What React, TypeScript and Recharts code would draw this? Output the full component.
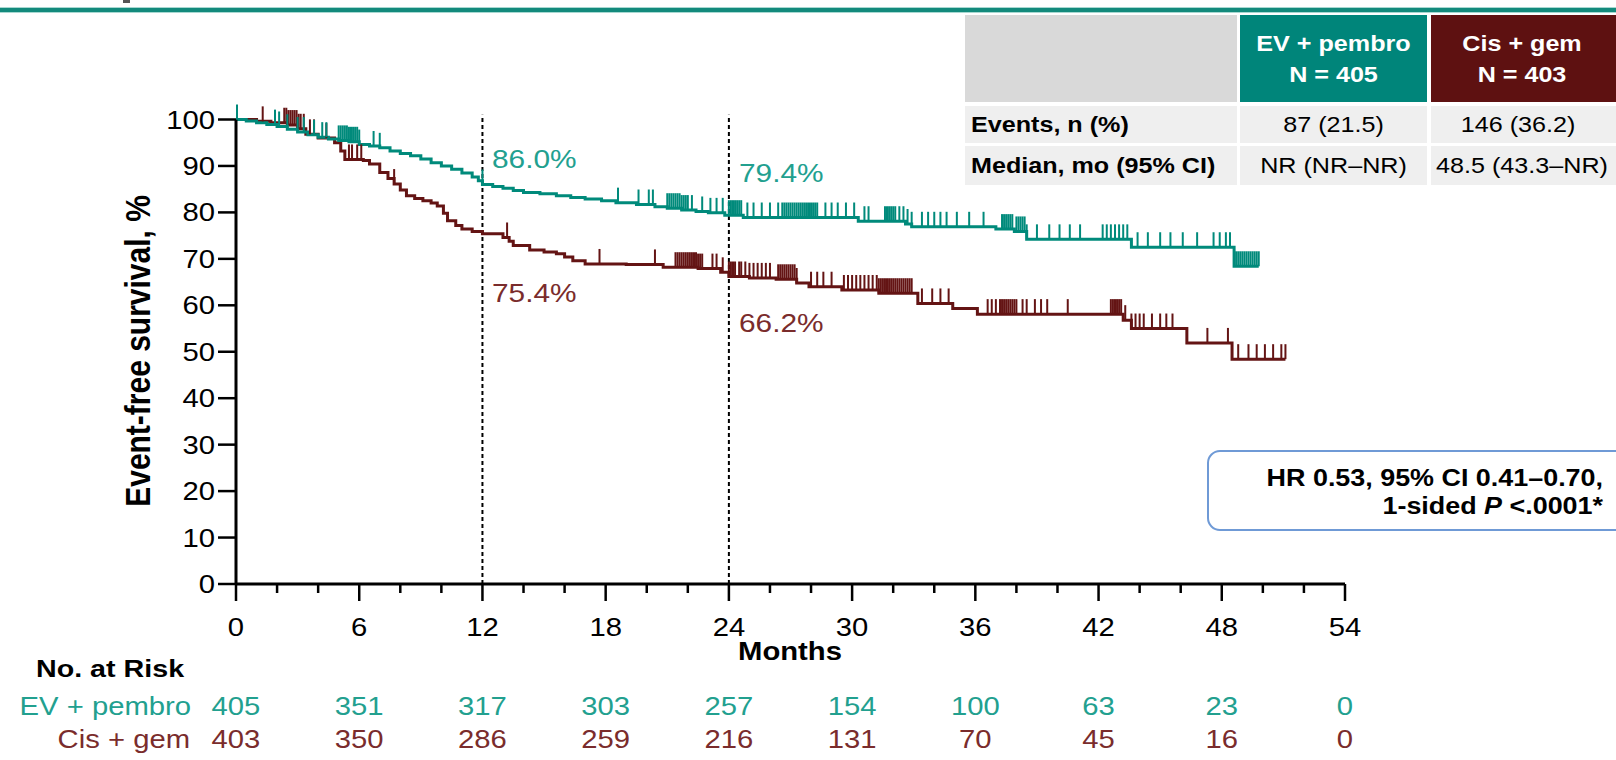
import React from 'react';
import { ComposedChart, Line, Scatter, XAxis, YAxis, ReferenceLine } from 'recharts';

const FONT = '"Liberation Sans", Arial, sans-serif';
// the source slide is stretched sideways, so text is widened to match
const SX = 1.17;

const TEAL = '#008a7b';
const TEAL_TEXT = '#22a08f';
const MAROON = '#641414';
const MAROON_TEXT = '#7a2c2c';

const Y_TICKS = [0, 10, 20, 30, 40, 50, 60, 70, 80, 90, 100];
const X_ALL_TICKS = [0, 2, 4, 6, 8, 10, 12, 14, 16, 18, 20, 22, 24, 26, 28, 30, 32, 34, 36, 38, 40, 42, 44, 46, 48, 50, 52, 54];
const RISK_MONTHS = [0, 6, 12, 18, 24, 30, 36, 42, 48, 54];
const EV_RISK = [405, 351, 317, 303, 257, 154, 100, 63, 23, 0];
const CIS_RISK = [403, 350, 286, 259, 216, 131, 70, 45, 16, 0];

// [month, event-free survival %]
const EV_CURVE = [
  [0, 100], [0.5, 99.7], [1.0, 99.3], [1.5, 98.9], [2.0, 98.5], [2.5, 97.9], [3.0, 97.3], [3.5, 96.7],
  [4.0, 96.2], [4.5, 95.8], [5.0, 95.5], [5.5, 95.2], [6.0, 94.6], [6.5, 94.3], [7.0, 93.9], [7.5, 93.2],
  [8.0, 92.7], [8.5, 92.2], [9.0, 91.5], [9.5, 90.7], [10.0, 90.0], [10.5, 89.3], [11.0, 88.5], [11.5, 87.6],
  [11.8, 86.8], [12.0, 86.0], [12.5, 85.6], [13.0, 85.2], [13.5, 84.7], [14.0, 84.3], [14.8, 84.0], [15.6, 83.6],
  [16.3, 83.2], [17.0, 82.9], [17.8, 82.5], [18.5, 82.1], [19.5, 81.7], [20.4, 81.2], [21.0, 80.9], [21.7, 80.5],
  [22.4, 80.2], [23.0, 79.9], [23.8, 79.4], [24.7, 78.9], [30.3, 78.1], [32.6, 77.5], [32.9, 76.9], [37.0, 76.4],
  [37.9, 75.9], [38.5, 74.2], [43.6, 72.5], [48.6, 68.4], [49.8, 68.4],
];

const CIS_CURVE = [
  [0, 100], [1.0, 99.6], [1.7, 99.3], [2.5, 98.8], [3.0, 98.0], [3.4, 96.8], [4.0, 96.0], [4.8, 95.0],
  [5.1, 93.2], [5.3, 91.4], [6.2, 91.2], [6.5, 90.4], [7.0, 88.6], [7.4, 87.3], [7.7, 86.1], [8.0, 84.8],
  [8.3, 83.6], [8.7, 83.0], [9.1, 82.5], [9.5, 82.0], [9.8, 81.4], [10.1, 79.8], [10.3, 78.2], [10.7, 77.2],
  [11.0, 76.4], [11.5, 75.9], [12.0, 75.4], [13.0, 74.6], [13.3, 73.8], [13.5, 72.9], [14.3, 71.9], [15.0, 71.5],
  [15.6, 71.1], [16.0, 70.4], [16.4, 69.6], [17.0, 68.9], [19.0, 68.8], [20.8, 68.2], [22.5, 67.9], [23.6, 67.1],
  [24.0, 66.2], [25.0, 65.9], [26.3, 65.6], [27.3, 64.8], [27.9, 64.0], [29.5, 63.3], [31.3, 62.6], [33.2, 60.4],
  [34.9, 59.3], [36.1, 58.1], [43.2, 56.8], [43.6, 55.0], [46.3, 51.9], [48.5, 48.4], [51.1, 48.4],
];

// censoring times, months
const EV_CENSOR = [
  0.05, 1.9, 2.1, 2.5, 3.0, 3.3, 3.8, 4.2, 4.4, 5.0, 5.1, 5.2, 5.3, 5.4, 5.5, 5.6, 5.7, 5.8, 5.9, 6.0, 6.7, 7.0,
  12.0, 18.6, 19.6, 20.1, 20.3, 21.0, 21.1, 21.2, 21.3, 21.4, 21.5, 21.6, 21.7, 21.8, 21.9, 22.0, 22.2, 22.7,
  23.1, 23.4, 23.7, 24.0, 24.1, 24.2, 24.3, 24.4, 24.5, 24.6, 24.9, 25.2, 25.6, 26.0, 26.4, 26.6, 26.7, 26.8,
  26.9, 27.0, 27.1, 27.2, 27.3, 27.4, 27.5, 27.6, 27.7, 27.8, 27.9, 28.0, 28.1, 28.2, 28.3, 28.7, 29.0, 29.3,
  29.7, 30.1, 30.6, 30.8, 31.6, 31.7, 31.8, 31.9, 32.0, 32.1, 32.3, 32.5, 32.7, 32.9, 33.4, 33.7, 34.0, 34.3,
  34.6, 35.1, 35.7, 36.4, 37.3, 37.4, 37.5, 37.6, 37.7, 37.8, 38.0, 38.1, 38.2, 38.3, 38.4, 38.5, 39.0, 39.6,
  40.1, 40.6, 41.1, 42.2, 42.4, 42.6, 42.8, 43.0, 43.2, 43.4, 43.9, 44.4, 45.0, 45.5, 46.1, 46.8, 47.6, 47.9,
  48.2, 48.4, 48.7, 48.8, 48.9, 49.0, 49.1, 49.2, 49.3, 49.4, 49.5, 49.6, 49.7, 49.8,
];

const CIS_CENSOR = [
  1.3, 2.35, 2.45, 2.55, 2.65, 2.75, 2.85, 2.95, 3.05, 3.15, 3.3, 3.6, 3.8, 4.4, 5.5, 5.65, 5.9, 6.1, 7.7,
  13.2, 17.7, 20.4, 21.4, 21.5, 21.6, 21.7, 21.8, 21.9, 22.0, 22.1, 22.2, 22.3, 22.4, 22.5, 22.6, 22.7, 23.2,
  23.4, 23.7, 24.0, 24.1, 24.2, 24.3, 24.5, 24.6, 24.8, 25.0, 25.2, 25.4, 25.6, 25.8, 26.0, 26.4, 26.5, 26.6,
  26.7, 26.8, 26.9, 27.0, 27.1, 27.2, 27.3, 28.0, 28.3, 28.6, 29.0, 29.6, 29.8, 30.0, 30.2, 30.4, 30.6, 30.8,
  31.0, 31.2, 31.3, 31.4, 31.5, 31.6, 31.7, 31.8, 31.9, 32.0, 32.1, 32.2, 32.3, 32.4, 32.5, 32.6, 32.7, 32.8,
  32.9, 33.4, 33.9, 34.3, 34.7, 36.6, 36.8, 37.0, 37.2, 37.3, 37.4, 37.5, 37.6, 37.7, 37.8, 37.9, 38.0, 38.3,
  38.5, 38.9, 39.2, 39.5, 40.5, 42.6, 42.7, 42.8, 42.9, 43.0, 43.1, 43.3, 43.6, 43.8, 44.0, 44.2, 44.6, 45.0,
  45.3, 45.6, 47.3, 48.3, 48.8, 49.3, 49.7, 50.1, 50.5, 50.9, 51.1,
];

// plot frame on the page
const W = 1616;
const H = 760;
const X0 = 236;
const X1 = 1345;
const Y100 = 119.5;
const Y0 = 584;
const YAXIS_W = 60;
const XAXIS_H = 60;

const xs = (m: number) => X0 + (m / 54) * (X1 - X0);

const toPoints = (curve: number[][]) => curve.map(([month, surv]) => ({ month, surv }));

const levelAt = (curve: number[][], t: number) => {
  let v = curve[0][1];
  for (const [m, s] of curve) {
    if (m <= t) v = s;
  }
  return v;
};

const censorPoints = (times: number[], curve: number[][]) =>
  times.map((month) => ({ month, surv: levelAt(curve, month) }));

const evLine = toPoints(EV_CURVE);
const cisLine = toPoints(CIS_CURVE);
const evMarks = censorPoints(EV_CENSOR, EV_CURVE);
const cisMarks = censorPoints(CIS_CENSOR, CIS_CURVE);

const Txt = ({ x, y, size, anchor = 'start', weight = 400, fill = '#000', children }: any) => (
  <text
    transform={`translate(${x},${y}) scale(${SX},1)`}
    textAnchor={anchor}
    fontSize={size}
    fontWeight={weight}
    fill={fill}
    fontFamily={FONT}
  >
    {children}
  </text>
);

const renderYTick = (props: any) => {
  const { x, y, payload } = props;
  return (
    <Txt x={x} y={y + 9} size={25} anchor="end">
      {payload.value}
    </Txt>
  );
};

const renderXTick = (props: any) => {
  const { x, y, payload } = props;
  const major = payload.value % 6 === 0;
  return (
    <g>
      <line x1={x} x2={x} y1={y} y2={y + (major ? 17 : 9)} stroke="#000" strokeWidth={2.5} />
      {major && (
        <Txt x={x} y={y + 52} size={25} anchor="middle">
          {payload.value}
        </Txt>
      )}
    </g>
  );
};

const censorShape = (color: string) => (props: any) => (
  <line x1={props.cx} x2={props.cx} y1={props.cy} y2={props.cy - 15} stroke={color} strokeWidth={2} />
);

export default function App() {
  return (
    <div style={{ position: 'absolute', left: 0, top: 0, width: W, height: H, background: '#fff', overflow: 'hidden' }}>
      <ComposedChart
        width={W}
        height={H}
        margin={{ top: Y100, right: W - X1, bottom: H - Y0 - XAXIS_H, left: X0 - YAXIS_W }}
      >
        <XAxis
          type="number"
          dataKey="month"
          domain={[0, 54]}
          ticks={X_ALL_TICKS}
          interval={0}
          tickSize={0}
          tickMargin={0}
          tickLine={false}
          tick={renderXTick}
          height={XAXIS_H}
          axisLine={{ stroke: '#000', strokeWidth: 3 }}
        />
        <YAxis
          type="number"
          dataKey="surv"
          domain={[0, 100]}
          ticks={Y_TICKS}
          interval={0}
          width={YAXIS_W}
          tickSize={18}
          tickMargin={3}
          tick={renderYTick}
          tickLine={{ stroke: '#000', strokeWidth: 2.5 }}
          axisLine={{ stroke: '#000', strokeWidth: 3 }}
        />
        <ReferenceLine
          segment={[{ x: 12, y: 0 }, { x: 12, y: 101 }]}
          ifOverflow="visible"
          stroke="#000"
          strokeWidth={2}
          strokeDasharray="4 3"
        />
        <ReferenceLine
          segment={[{ x: 24, y: 0 }, { x: 24, y: 101 }]}
          ifOverflow="visible"
          stroke="#000"
          strokeWidth={2}
          strokeDasharray="4 3"
        />
        <Line data={cisLine} dataKey="surv" type="stepAfter" stroke={MAROON} strokeWidth={3} dot={false} isAnimationActive={false} />
        <Line data={evLine} dataKey="surv" type="stepAfter" stroke={TEAL} strokeWidth={3} dot={false} isAnimationActive={false} />
        <Scatter data={cisMarks} dataKey="surv" shape={censorShape(MAROON)} isAnimationActive={false} />
        <Scatter data={evMarks} dataKey="surv" shape={censorShape(TEAL)} isAnimationActive={false} />
      </ComposedChart>

      <svg width={W} height={H} style={{ position: 'absolute', left: 0, top: 0, pointerEvents: 'none' }}>
        {/* slide header rule */}
        <rect x={0} y={7} width={W} height={6} fill="#a8d8d1" />
        <rect x={0} y={8} width={W} height={4} fill="#138a7c" />
        <rect x={123} y={0} width={7} height={3} fill="#555" />

        {/* y axis title */}
        <text
          transform={`translate(150,351) rotate(-90) scale(1,${SX})`}
          textAnchor="middle"
          fontSize={30}
          fontWeight={700}
          fontFamily={FONT}
          fill="#000"
        >
          Event-free survival, %
        </text>

        <Txt x={790} y={660} size={25} anchor="middle" weight={700}>Months</Txt>

        {/* landmark rates */}
        <Txt x={492} y={168} size={25.5} fill={TEAL_TEXT}>86.0%</Txt>
        <Txt x={739} y={182} size={25.5} fill={TEAL_TEXT}>79.4%</Txt>
        <Txt x={492} y={302} size={25.5} fill={MAROON_TEXT}>75.4%</Txt>
        <Txt x={739} y={332} size={25.5} fill={MAROON_TEXT}>66.2%</Txt>

        {/* number at risk */}
        <Txt x={36} y={677} size={24.5} weight={700}>No. at Risk</Txt>
        <Txt x={191} y={715} size={25} anchor="end" fill={TEAL_TEXT}>EV + pembro</Txt>
        <Txt x={190} y={748} size={25} anchor="end" fill={MAROON_TEXT}>Cis + gem</Txt>
        {RISK_MONTHS.map((m, i) => (
          <Txt key={`ev-${m}`} x={xs(m)} y={715} size={25} anchor="middle" fill={TEAL_TEXT}>{EV_RISK[i]}</Txt>
        ))}
        {RISK_MONTHS.map((m, i) => (
          <Txt key={`cis-${m}`} x={xs(m)} y={748} size={25} anchor="middle" fill={MAROON_TEXT}>{CIS_RISK[i]}</Txt>
        ))}

        {/* summary table */}
        <rect x={965} y={15} width={272} height={87} fill="#d9d9d9" />
        <rect x={1240} y={15} width={187} height={87} fill="#00857a" />
        <rect x={1431} y={15} width={185} height={87} fill="#5e1111" />
        <rect x={965} y={106} width={272} height={37} fill="#efefef" />
        <rect x={1240} y={106} width={187} height={37} fill="#efefef" />
        <rect x={1431} y={106} width={185} height={37} fill="#efefef" />
        <rect x={965} y={146} width={272} height={39} fill="#efefef" />
        <rect x={1240} y={146} width={187} height={39} fill="#efefef" />
        <rect x={1431} y={146} width={185} height={39} fill="#efefef" />
        <Txt x={1333.5} y={51} size={21.5} anchor="middle" weight={700} fill="#fff">EV + pembro</Txt>
        <Txt x={1333.5} y={82} size={21.5} anchor="middle" weight={700} fill="#fff">N = 405</Txt>
        <Txt x={1522} y={51} size={21.5} anchor="middle" weight={700} fill="#fff">Cis + gem</Txt>
        <Txt x={1522} y={82} size={21.5} anchor="middle" weight={700} fill="#fff">N = 403</Txt>
        <Txt x={971} y={132} size={21.5} weight={700}>Events, n (%)</Txt>
        <Txt x={1333.5} y={132} size={21.5} anchor="middle">87 (21.5)</Txt>
        <Txt x={1518} y={132} size={21.5} anchor="middle">146 (36.2)</Txt>
        <Txt x={971} y={173} size={21.5} weight={700}>Median, mo (95% CI)</Txt>
        <Txt x={1333.5} y={173} size={21.5} anchor="middle">NR (NR–NR)</Txt>
        <Txt x={1522} y={173} size={21.5} anchor="middle">48.5 (43.3–NR)</Txt>

        {/* hazard ratio box */}
        <rect x={1208} y={451} width={420} height={79} rx={12} fill="#fff" stroke="#6f9ad6" strokeWidth={2} />
        <Txt x={1603} y={486} size={23} anchor="end" weight={700}>HR 0.53, 95% CI 0.41–0.70,</Txt>
        <text
          transform={`translate(1603,514) scale(${SX},1)`}
          textAnchor="end"
          fontSize={23}
          fontWeight={700}
          fontFamily={FONT}
          fill="#000"
        >
          1-sided <tspan fontStyle="italic">P</tspan> {'<.0001*'}
        </text>
      </svg>
    </div>
  );
}
